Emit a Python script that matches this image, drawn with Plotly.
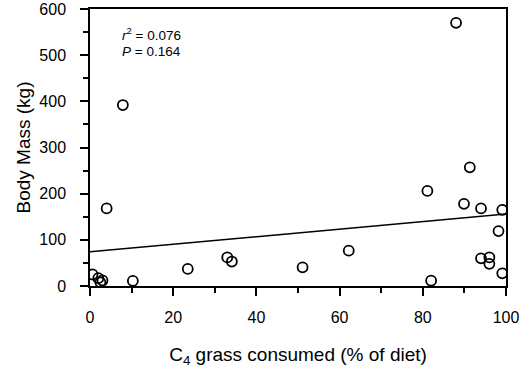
import plotly.graph_objects as go

# C4 grass consumed (% of diet) and body mass (kg)
c4_pct = [0.6, 2.0, 3.0, 2.5, 4.0, 7.9, 10.3, 23.5, 33.0, 34.1, 51.1, 62.2,
          81.1, 82.0, 88.0, 89.9, 91.3, 94.0, 94.0, 96.0, 96.0, 98.2, 99.1, 99.1]
body_mass = [25, 17, 12, 8, 168, 392, 11, 37, 62, 53, 40.5, 76.5,
             206, 11.5, 570, 178, 257, 168, 60, 62, 48, 119, 165, 27.5]

# regression line endpoints
fit_x = [0, 100]
fit_y = [74, 156]

x_ticks = [0, 20, 40, 60, 80, 100]
y_ticks = [0, 100, 200, 300, 400, 500, 600]

FONT = "Liberation Sans, Arial, sans-serif"

fig = go.Figure()
fig.add_trace(go.Scatter(x=fit_x, y=fit_y, mode="lines",
                         line=dict(color="black", width=1.5), showlegend=False))
fig.add_trace(go.Scatter(x=c4_pct, y=body_mass, mode="markers",
                         marker=dict(symbol="circle-open", size=10,
                                     color="black", line=dict(width=1.8, color="black")),
                         showlegend=False))

fig.add_annotation(x=7.2, y=545, xref="x", yref="y", xanchor="left", yanchor="middle",
                   text="<i>r</i><sup>2</sup> = 0.076", showarrow=False,
                   font=dict(family=FONT, size=13.5, color="black"))
fig.add_annotation(x=7.2, y=508, xref="x", yref="y", xanchor="left", yanchor="middle",
                   text="<i>P</i> = 0.164", showarrow=False,
                   font=dict(family=FONT, size=13.5, color="black"))

axis_common = dict(showline=True, linecolor="black", linewidth=1.5, mirror=True,
                   ticks="outside", ticklen=8, tickwidth=1.5, tickcolor="black",
                   showgrid=False, zeroline=False, ticklabeloverflow="allow",
                   tickfont=dict(family=FONT, size=16, color="black"))

fig.update_xaxes(range=[0, 100], tickvals=x_ticks, ticktext=[str(v) for v in x_ticks],
                 minor=dict(dtick=10, ticks="outside", ticklen=5, tickwidth=1.5, tickcolor="black"),
                 title=dict(text="C<sub>4</sub> grass consumed (% of diet)",
                            font=dict(family=FONT, size=19, color="black"), standoff=23),
                 ticklabelstandoff=8, **axis_common)
fig.update_yaxes(range=[0, 600], tickvals=y_ticks, ticktext=[str(v) for v in y_ticks],
                 minor=dict(dtick=50, ticks="outside", ticklen=5, tickwidth=1.5, tickcolor="black"),
                 title=dict(text="Body Mass (kg)",
                            font=dict(family=FONT, size=19, color="black"), standoff=4),
                 ticklabelstandoff=11, **axis_common)

fig.update_layout(width=519, height=368, margin=dict(l=90, r=13, t=9, b=82, autoexpand=False),
                  paper_bgcolor="white", plot_bgcolor="white")

fig.write_html("out.html", config={"displayModeBar": False},
               post_script="document.body.style.margin='0';document.body.style.overflow='hidden';")
